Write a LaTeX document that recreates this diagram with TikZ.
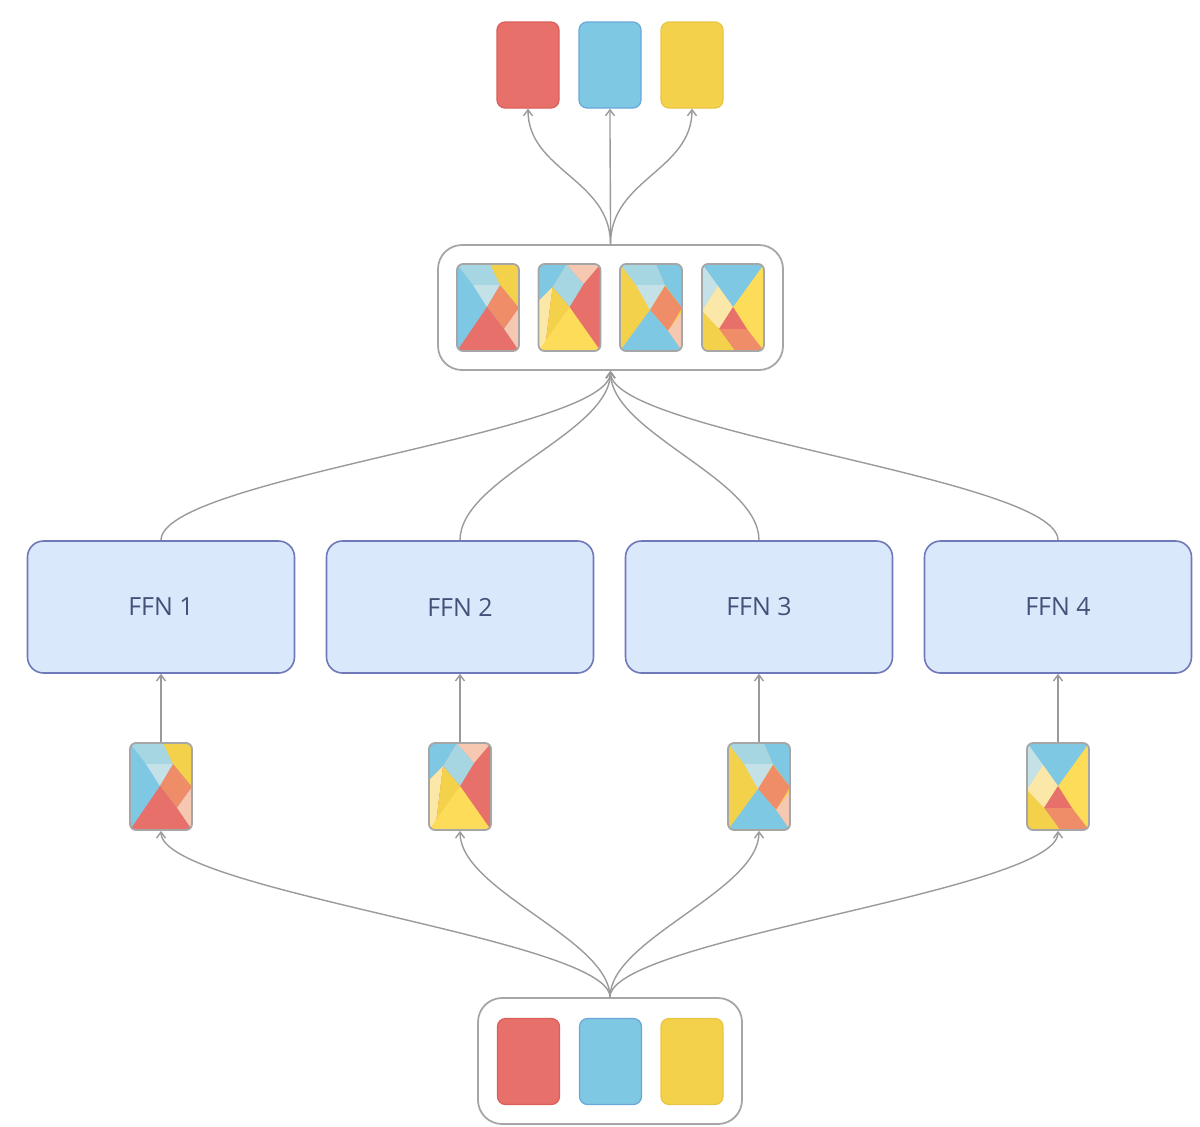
\documentclass[tikz,border=0pt]{standalone}
\usepackage{fontspec}
\setmainfont{Open Sans}
\usetikzlibrary{arrows.meta}

\definecolor{cred}{HTML}{E8706A}
\definecolor{credd}{HTML}{DC5E5A}
\definecolor{cblue}{HTML}{7EC8E3}
\definecolor{cblued}{HTML}{6AA6DA}
\definecolor{cyellow}{HTML}{F4D14A}
\definecolor{cyellowd}{HTML}{E9C443}
\definecolor{cbright}{HTML}{FDDC5A}
\definecolor{cpaley}{HTML}{FBE7A8}
\definecolor{clight}{HTML}{A7D6E3}
\definecolor{cpale}{HTML}{C4E1E8}
\definecolor{corange}{HTML}{EF8D69}
\definecolor{cpeach}{HTML}{F6C7B1}
\definecolor{cffn}{HTML}{DAE8FC}
\definecolor{cffnd}{HTML}{6F78B8}
\definecolor{cffnt}{HTML}{454F78}
\definecolor{cgray}{HTML}{A6A6A6}
\definecolor{clink}{HTML}{9A9A9A}

\tikzset{
  chip/.style={minimum width=31pt, minimum height=43pt, inner sep=0pt,
    rounded corners=4pt, line width=0.6pt},
  tilebox/.style={draw=cgray, line width=0.9pt, minimum width=31pt,
    minimum height=43.5pt, inner sep=0pt, rounded corners=3pt},
  group/.style={draw=cgray, line width=0.9pt, rounded corners=12pt, inner sep=0pt},
  ffn/.style={draw=cffnd, fill=cffn, line width=0.8pt, rounded corners=8pt,
    minimum width=133.5pt, minimum height=66pt, text=cffnt,
    font=\fontsize{12.5}{15}\selectfont},
  link/.style={draw=clink, line width=0.7pt, -{Straight Barb[length=3pt,width=4.5pt]}},
  % token patterns, 62 x 87 units, origin at the top left corner
  tilea/.pic={
    \begin{scope}
    \clip[rounded corners=3pt] (0,0) rectangle (62,87);
    \fill[cblue] (0,0) rectangle (62,87);
    \fill[clight] (0,0) -- (33,0) -- (43,21) -- (16,21) -- cycle;
    \fill[cpale] (16,21) -- (43,21) -- (30,43) -- cycle;
    \fill[cyellow] (33,0) -- (62,0) -- (62,44) -- (43,21) -- cycle;
    \fill[corange] (30,43) -- (43,21) -- (62,44) -- (47,65) -- cycle;
    \fill[cpeach] (47,65) -- (62,44) -- (62,87) -- cycle;
    \fill[cred] (0,87) -- (30,43) -- (47,65) -- (62,87) -- cycle;
    \end{scope}
  },
  tileb/.pic={
    \begin{scope}
    \clip[rounded corners=3pt] (0,0) rectangle (62,87);
    \fill[cred] (0,0) rectangle (62,87);
    \fill[cblue] (0,0) -- (28,0) -- (14,23) -- (0,37) -- cycle;
    \fill[clight] (28,0) -- (45,20) -- (31,43) -- (14,23) -- cycle;
    \fill[cpeach] (28,0) -- (62,0) -- (45,20) -- cycle;
    \fill[cpaley] (0,37) -- (14,23) -- (7,80) -- (0,87) -- cycle;
    \fill[cyellow] (14,23) -- (31,43) -- (7,80) -- cycle;
    \fill[cbright] (0,87) -- (31,43) -- (62,87) -- cycle;
    \end{scope}
  },
  tilec/.pic={
    \begin{scope}
    \clip[rounded corners=3pt] (0,0) rectangle (62,87);
    \fill[cyellow] (0,0) rectangle (62,87);
    \fill[clight] (0,0) -- (36,0) -- (45,21) -- (16,21) -- cycle;
    \fill[cpale] (16,21) -- (45,21) -- (30,46) -- cycle;
    \fill[cblue] (36,0) -- (62,0) -- (62,44) -- (45,21) -- cycle;
    \fill[corange] (30,46) -- (45,22) -- (62,44) -- (48,67) -- cycle;
    \fill[cpeach] (48,67) -- (62,48) -- (62,87) -- cycle;
    \fill[cblue] (0,87) -- (30,46) -- (48,67) -- (62,87) -- cycle;
    \end{scope}
  },
  tiled/.pic={
    \begin{scope}
    \clip[rounded corners=3pt] (0,0) rectangle (62,87);
    \fill[cbright] (0,0) rectangle (62,87);
    \fill[cblue] (0,0) -- (62,0) -- (31,43) -- cycle;
    \fill[cpale] (0,0) -- (16,22) -- (0,47) -- cycle;
    \fill[cpaley] (16,22) -- (31,43) -- (17,65) -- (0,47) -- cycle;
    \fill[cred] (31,43) -- (45,65) -- (17,65) -- cycle;
    \fill[corange] (17,65) -- (45,65) -- (62,87) -- (33,87) -- cycle;
    \fill[cyellow] (0,47) -- (17,65) -- (33,87) -- (0,87) -- cycle;
    \end{scope}
  }
}

% name, x, y, pattern
\newcommand{\placetile}[4]{%
  \pic at ({#2-31},{#3-43.5}) {#4};
  \node[tilebox] (#1) at (#2,#3) {};
}

\begin{document}
\begin{tikzpicture}[x=0.5pt, y=-0.5pt]
  \useasboundingbox (0,0) rectangle (1200,1126);

  % Output tokens
  \node[chip, fill=cred, draw=credd] (out1) at (528,65) {};
  \node[chip, fill=cblue, draw=cblued] (out2) at (610,65) {};
  \node[chip, fill=cyellow, draw=cyellowd] (out3) at (692,65) {};

  % Mixed tokens
  \node[group, minimum width=172.5pt, minimum height=62.5pt] (mix) at (610.5,307.5) {};
  \placetile{mix1}{488}{307.5}{tilea}
  \placetile{mix2}{569.5}{307.5}{tileb}
  \placetile{mix3}{651}{307.5}{tilec}
  \placetile{mix4}{733}{307.5}{tiled}

  % Experts
  \foreach \i/\x in {1/161,2/460,3/759,4/1058}
  \node[ffn] (ffn\i) at (\x,607) {FFN \i};

  % Routed tokens
  \foreach \i/\x/\p in {1/161/tilea,2/460/tileb,3/759/tilec,4/1058/tiled}
  {\placetile{tok\i}{\x}{786.5}{\p}}

  % Input tokens
  \node[group, minimum width=132pt, minimum height=63pt] (inp) at (610,1061) {};
  \node[chip, fill=cred, draw=credd] (in1) at (528.5,1061.5) {};
  \node[chip, fill=cblue, draw=cblued] (in2) at (610.5,1061.5) {};
  \node[chip, fill=cyellow, draw=cyellowd] (in3) at (692,1061.5) {};

  % Arrows
  \foreach \i in {1,2,3}
  \draw[link] (mix.north) .. controls +(0,-65) and +(0,62) .. (out\i.south);
  \foreach \i in {1,...,4}
  \draw[link] (ffn\i.north) .. controls +(0,-62) and +(0,62) .. (mix.south);
  \foreach \i in {1,...,4}
  \draw[link] (tok\i.north) -- (ffn\i.south);
  \foreach \i in {1,...,4}
  \draw[link] (inp.north) .. controls +(0,-58) and +(0,60) .. (tok\i.south);
\end{tikzpicture}
\end{document}
